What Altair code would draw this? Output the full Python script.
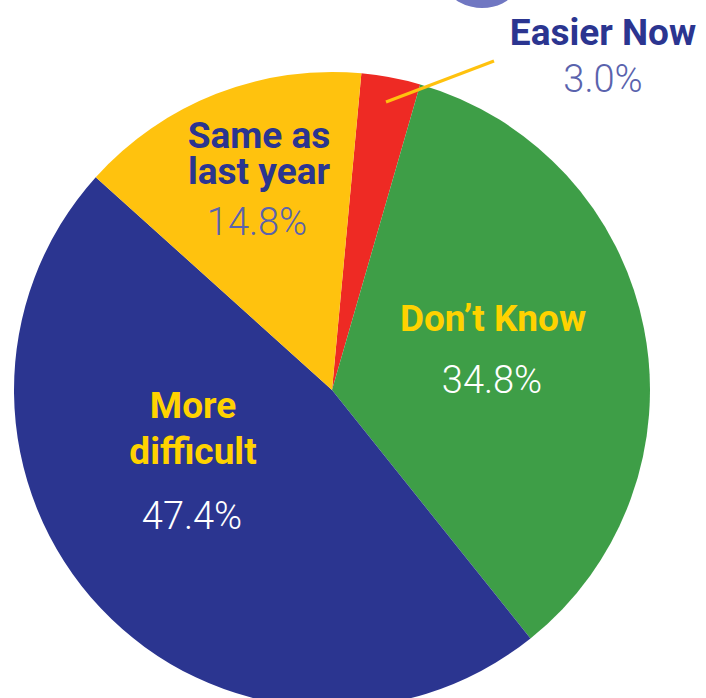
import math
import altair as alt
import pandas as pd

categories = ["Easier Now", "Don’t Know", "More difficult", "Same as last year"]
values = [3.0, 34.8, 47.4, 14.8]
label_lines = ["Easier Now", "Don’t Know", "More\ndifficult", "Same as\nlast year"]
colors = ["#EE2A24", "#3E9E47", "#2B3590", "#FFC20E"]

df = pd.DataFrame({
    "category": categories,
    "value": values,
    "order": list(range(len(categories))),
    "name": label_lines,
    "pct": [f"{v:.1f}%" for v in values],
})

W, H = 706, 698
CX, CY, R = 332, 390, 318
start = math.radians(5.3)

base = alt.Chart(df)

pie = base.mark_arc(outerRadius=R, stroke=None).encode(
    theta=alt.Theta("value:Q", stack=True,
                    scale=alt.Scale(range=[start, start + 2 * math.pi])),
    order=alt.Order("order:Q"),
    color=alt.Color("category:N", scale=alt.Scale(domain=categories, range=colors), legend=None),
    x=alt.value(CX),
    y=alt.value(CY),
)

FONT = "Roboto"
NAVY = "#2B3590"
LIGHTNAVY = "#5A63AD"
YEL = "#FFD200"


def label(cat, field, x, y, color, bold=True, size=37, lh=None):
    kw = dict(align="center", baseline="alphabetic", font=FONT, fontSize=size,
              fontWeight="bold" if bold else 300, color=color)
    if lh is not None:
        kw["lineBreak"] = "\n"
        kw["lineHeight"] = lh
    return base.transform_filter(alt.datum.category == cat).mark_text(**kw).encode(
        text=alt.Text(f"{field}:N"), x=alt.value(x), y=alt.value(y)
    )


layers = [
    pie,
    label("Easier Now", "name", 603, 45, NAVY),
    label("Easier Now", "pct", 603, 92, LIGHTNAVY, bold=False, size=38),
    label("Don’t Know", "name", 493, 331, YEL),
    label("Don’t Know", "pct", 492, 393, "white", bold=False, size=38),
    label("More difficult", "name", 193, 418, YEL, lh=46),
    label("More difficult", "pct", 192, 529, "white", bold=False, size=38),
    label("Same as last year", "name", 259, 148, NAVY, lh=36),
    label("Same as last year", "pct", 257, 235, LIGHTNAVY, bold=False, size=38),
]

leader = alt.Chart(pd.DataFrame({"k": [0]})).mark_rule(color="#FFC20E", strokeWidth=3).encode(
    x=alt.value(386), x2=alt.value(494), y=alt.value(102), y2=alt.value(61)
)

title_frag = alt.Chart(pd.DataFrame({"t": ["g"]})).mark_text(
    font=FONT, fontSize=175, fontWeight="normal", color="#7077C2", align="center", baseline="alphabetic"
).encode(text="t:N", x=alt.value(484), y=alt.value(-28))

chart = alt.layer(*layers, leader, title_frag).properties(
    width=W, height=H, autosize=alt.AutoSizeParams(type="none"), padding=0
).configure_view(stroke=None)

chart.save("out.html", embed_options={"renderer": "svg", "actions": False})
